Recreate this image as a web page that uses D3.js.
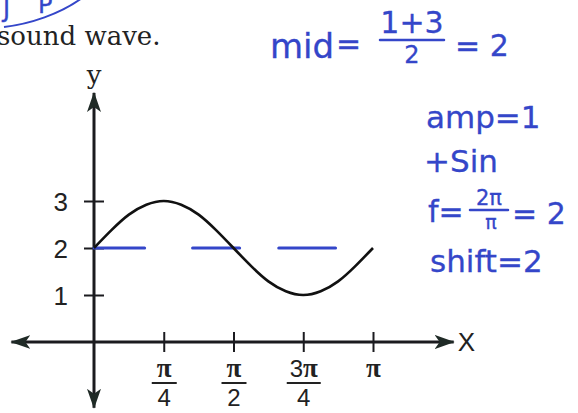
<!DOCTYPE html>
<html>
<head>
<meta charset="utf-8">
<script src="https://cdn.jsdelivr.net/npm/d3@7"></script>
<style>
  html, body { margin: 0; padding: 0; background: #fff; }
  svg { display: block; }
</style>
</head>
<body>
<svg id="chart" width="578" height="413"></svg>
<script>
// y = 2 + sin(2x) on [0, π], sampled every π/16
const curveX = d3.range(17).map(i => i * Math.PI / 16);
const curveY = [2, 2.38, 2.71, 2.92, 3, 2.92, 2.71, 2.38, 2, 1.62, 1.29, 1.08, 1, 1.08, 1.29, 1.62, 2];

// y-axis ticks
const yTicks = [1, 2, 3];

// x-axis ticks and their fraction labels [numerator, denominator]
const xTicks = [Math.PI / 4, Math.PI / 2, 3 * Math.PI / 4, Math.PI];
const xTickLabels = [["π", "4"], ["π", "2"], ["3π", "4"], ["π", null]];

// hand-drawn midline at y = 2, as dashes [x start, x end]
const midDashes = [[0, 0.57], [1.11, 1.64], [2.08, 2.72]];
const midValue = 2;

const ink = "#1b1b1f";
const pen = "#3446c9";

const svg = d3.select("#chart");

const x = d3.scaleLinear().domain([0, Math.PI]).range([94, 373]);
const y = d3.scaleLinear().domain([0, 3]).range([342, 201]);

// heading text
svg.append("text")
  .attr("x", -3).attr("y", 45)
  .attr("font-family", "'DejaVu Serif', 'Liberation Serif', serif")
  .attr("font-size", 26)
  .attr("fill", "#222")
  .text("sound wave.");

// arrowhead marker
const defs = svg.append("defs");
defs.append("marker")
  .attr("id", "arrow")
  .attr("viewBox", "0 0 20 14")
  .attr("refX", 19).attr("refY", 7)
  .attr("markerWidth", 20).attr("markerHeight", 14)
  .attr("markerUnits", "userSpaceOnUse")
  .attr("orient", "auto")
  .append("path")
  .attr("d", "M0,0 L20,7 L0,14 L5,7 Z")
  .attr("fill", "#1f2a26");

// axes lines with arrows at both ends
const axes = svg.append("g").attr("stroke", ink).attr("stroke-width", 3);
const xAxisLeft = -0.93, xAxisRight = 4.05;
const yAxisTop = 5.3, yAxisBottom = -1.4;
axes.append("line")
  .attr("x1", x(0)).attr("y1", y(0))
  .attr("x2", x(xAxisLeft)).attr("y2", y(0))
  .attr("marker-end", "url(#arrow)");
axes.append("line")
  .attr("x1", x(0)).attr("y1", y(0))
  .attr("x2", x(xAxisRight)).attr("y2", y(0))
  .attr("marker-end", "url(#arrow)");
axes.append("line")
  .attr("x1", x(0)).attr("y1", y(0))
  .attr("x2", x(0)).attr("y2", y(yAxisTop))
  .attr("marker-end", "url(#arrow)");
axes.append("line")
  .attr("x1", x(0)).attr("y1", y(0))
  .attr("x2", x(0)).attr("y2", y(yAxisBottom))
  .attr("marker-end", "url(#arrow)");

// y axis ticks (crossing the axis)
const yAxis = svg.append("g")
  .attr("transform", `translate(${x(0)},0)`)
  .call(d3.axisLeft(y).tickValues(yTicks).tickFormat(d3.format("d")).tickSize(10).tickPadding(16));
yAxis.select(".domain").remove();
yAxis.selectAll(".tick line")
  .attr("x1", -10).attr("x2", 10)
  .attr("stroke", ink).attr("stroke-width", 2);
yAxis.selectAll(".tick text")
  .attr("font-family", "'Liberation Sans', Arial, sans-serif")
  .attr("font-size", 26)
  .attr("fill", "#222")
  .attr("dy", "0.36em");

// x axis ticks with fraction labels
const xAxis = svg.append("g")
  .attr("transform", `translate(0,${y(0)})`)
  .call(d3.axisBottom(x).tickValues(xTicks).tickSize(10).tickFormat(""));
xAxis.select(".domain").remove();
xAxis.selectAll(".tick line")
  .attr("y1", -10).attr("y2", 10)
  .attr("stroke", ink).attr("stroke-width", 2);
xAxis.selectAll(".tick").each(function (d, i) {
  const g = d3.select(this);
  const [num, den] = xTickLabels[i];
  const t = g.append("text")
    .attr("text-anchor", "middle")
    .attr("y", 35)
    .attr("fill", "#222")
    .attr("font-size", 27);
  const m = num.match(/^(\d*)(π)$/);
  if (m[1]) {
    t.append("tspan")
      .attr("font-family", "'Liberation Sans', Arial, sans-serif")
      .attr("font-size", 24)
      .text(m[1]);
  }
  t.append("tspan")
    .attr("font-family", "'Liberation Serif', 'DejaVu Serif', serif")
    .attr("font-weight", "bold")
    .text(m[2]);
  if (den) {
    const w = m[1] ? 34 : 25;
    g.append("line")
      .attr("x1", -w / 2).attr("x2", w / 2)
      .attr("y1", 41).attr("y2", 41)
      .attr("stroke", "#222").attr("stroke-width", 2);
    g.append("text")
      .attr("text-anchor", "middle")
      .attr("y", 64)
      .attr("font-family", "'Liberation Sans', Arial, sans-serif")
      .attr("font-size", 24)
      .attr("fill", "#222")
      .text(den);
  }
});

// axis names
svg.append("text")
  .attr("x", x(0)).attr("y", y(yAxisTop) - 9)
  .attr("text-anchor", "middle")
  .attr("font-family", "'DejaVu Serif', 'Liberation Serif', serif")
  .attr("font-size", 26)
  .attr("fill", "#222")
  .text("y");
svg.append("text")
  .attr("x", x(xAxisRight) + 4).attr("y", y(0))
  .attr("dy", "0.36em")
  .attr("font-family", "'Liberation Sans', Arial, sans-serif")
  .attr("font-size", 26)
  .attr("fill", "#222")
  .text("X");

// handwritten midline dashes
svg.append("g")
  .selectAll("line")
  .data(midDashes)
  .join("line")
  .attr("x1", d => x(d[0])).attr("x2", d => x(d[1]))
  .attr("y1", y(midValue)).attr("y2", y(midValue))
  .attr("stroke", pen).attr("stroke-width", 3)
  .attr("stroke-linecap", "round");

// the wave
const line = d3.line()
  .x(d => x(d[0]))
  .y(d => y(d[1]))
  .curve(d3.curveNatural);
svg.append("path")
  .datum(d3.zip(curveX, curveY))
  .attr("d", line)
  .attr("fill", "none")
  .attr("stroke", "#111")
  .attr("stroke-width", 2.6);

// handwritten notes
const hand = svg.append("g")
  .attr("fill", pen)
  .attr("stroke", pen)
  .attr("stroke-width", 0.3)
  .attr("font-family", "'DejaVu Sans', sans-serif");

function note(tx, ty, size, str, anchor) {
  return hand.append("text")
    .attr("x", tx).attr("y", ty)
    .attr("font-size", size)
    .attr("text-anchor", anchor || "start")
    .text(str);
}
function bar(x1, x2, yy) {
  hand.append("line")
    .attr("x1", x1).attr("x2", x2).attr("y1", yy).attr("y2", yy)
    .attr("stroke-width", 2.5).attr("stroke-linecap", "round");
}

note(270, 58, 34, "mid");
note(336, 54, 30, "=");
note(412, 33, 30, "1+3", "middle");
bar(380, 444, 40);
note(412, 63, 24, "2", "middle");
note(455, 56, 30, "= 2");

note(426, 128, 31, "amp=1");
note(424, 172, 31, "+Sin");
note(428, 222, 30, "f=");
note(489, 205, 21, "2π", "middle");
bar(470, 508, 210);
note(491, 229, 19, "π", "middle");
note(512, 224, 30, "= 2");
note(430, 272, 31, "shift=2");

// scribbles in the top-left corner
note(3, 17, 24, "J");
note(38, 13, 24, "P");
hand.append("path")
  .attr("d", "M4,27 C30,24 60,14 82,-2")
  .attr("fill", "none")
  .attr("stroke-width", 2);
</script>
</body>
</html>
